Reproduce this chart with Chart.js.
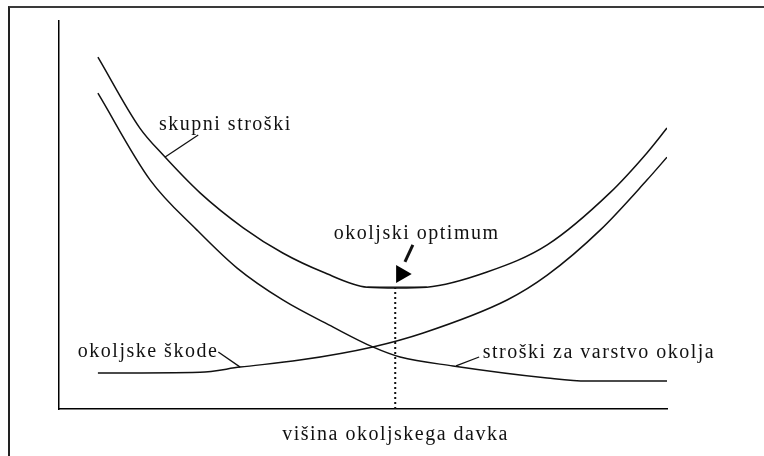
<!DOCTYPE html>
<html>
<head>
<meta charset="utf-8">
<script src="https://cdn.jsdelivr.net/npm/chart.js@4"></script>
<style>
  body { margin: 0; background: #fff; }
  #wrap { position: relative; width: 764px; height: 456px; }
  #frame { position: absolute; left: 8px; top: 6px; right: 0; bottom: 0;
           border-top: 2px solid #3a3a3a; border-left: 2px solid #222; }
  canvas { position: absolute; left: 0; top: 0; }
</style>
</head>
<body>
<div id="wrap">
  <div id="frame"></div>
  <canvas id="myCostChart" width="764" height="456"></canvas>
</div>
<script>
// series names
const seriesNames = ["skupni stroški", "stroški za varstvo okolja", "okoljske škode"];

// skupni stroški (total costs)
const totalX = [0.64, 1.33, 1.71, 2.32, 3.03, 3.68, 4.34, 5.07, 5.56, 6.05, 7.04, 8.03, 9.06, 9.67, 10.0];
const totalY = [9.07, 7.24, 6.55, 5.57, 4.67, 4.02, 3.53, 3.14, 3.12, 3.14, 3.53, 4.23, 5.57, 6.60, 7.24];

// stroški za varstvo okolja (protection costs)
const protectX = [0.64, 1.50, 2.27, 2.93, 3.68, 4.51, 5.16, 5.61, 6.48, 8.03, 8.68, 10.0];
const protectY = [8.14, 5.90, 4.61, 3.63, 2.81, 2.11, 1.60, 1.34, 1.11, 0.80, 0.72, 0.72];

// okoljske škode (environmental damage)
const damageX = [0.64, 2.32, 2.98, 3.96, 5.16, 5.99, 7.37, 8.03, 8.90, 9.67, 10.0];
const damageY = [0.93, 0.95, 1.08, 1.26, 1.60, 1.96, 2.81, 3.45, 4.61, 5.90, 6.49];

// optimum
const optimumX = 5.53;
const optimumY = 3.12;
const optimumText = "okoljski optimum";
const axisTitle = "višina okoljskega davka";

function pts(xs, ys) {
  return xs.map((x, i) => ({ x: x, y: ys[i] }));
}

const ink = "#111";

const lineStyle = {
  showLine: true,
  borderColor: ink,
  borderWidth: 1.5,
  pointRadius: 0,
  cubicInterpolationMode: "monotone",
};

const segStyle = {
  showLine: true,
  borderColor: ink,
  borderWidth: 1.3,
  pointRadius: 0,
};

// text labels, anchored in chart units (left, baseline)
const textLabels = [
  { text: seriesNames[0], x: 1.645, y: 7.19 },
  { text: optimumText, x: 4.52, y: 4.38 },
  { text: seriesNames[2], x: 0.31, y: 1.34 },
  { text: seriesNames[1], x: 6.97, y: 1.31 },
  { text: axisTitle, x: 3.67, y: -0.80 },
];

const textPlugin = {
  id: "textLabels",
  afterDatasetsDraw(chart) {
    const ctx = chart.ctx;
    const xs = chart.scales.x;
    const ys = chart.scales.y;
    ctx.save();
    ctx.font = "20px 'Liberation Serif', 'Times New Roman', serif";
    ctx.fillStyle = ink;
    ctx.textAlign = "left";
    ctx.textBaseline = "alphabetic";
    ctx.letterSpacing = "1.5px";
    textLabels.forEach((l) => {
      ctx.fillText(l.text, xs.getPixelForValue(l.x), ys.getPixelForValue(l.y));
    });
    ctx.restore();
  },
};

const costChart = document.getElementById("myCostChart").getContext("2d");

new Chart(costChart, {
  type: "scatter",
  data: {
    datasets: [
      { label: seriesNames[0], data: pts(totalX, totalY), ...lineStyle },
      { label: seriesNames[1], data: pts(protectX, protectY), ...lineStyle },
      { label: seriesNames[2], data: pts(damageX, damageY), ...lineStyle },
      // leader lines
      { label: "l1", data: [{ x: 2.29, y: 7.06 }, { x: 1.74, y: 6.49 }], ...segStyle },
      { label: "l2", data: [{ x: 2.62, y: 1.47 }, { x: 2.98, y: 1.08 }], ...segStyle },
      { label: "l3", data: [{ x: 6.91, y: 1.34 }, { x: 6.53, y: 1.11 }], ...segStyle },
      // tangent at the optimum
      { label: "tangent", data: [{ x: 5.07, y: optimumY + 0.02 }, { x: 6.05, y: optimumY + 0.02 }], ...segStyle },
      // dotted drop line
      {
        label: "drop",
        data: [{ x: optimumX, y: 0 }, { x: optimumX, y: optimumY }],
        ...segStyle,
        borderWidth: 2,
        borderDash: [2, 3],
      },
      // arrow shaft and head
      { label: "shaft", data: [{ x: 5.82, y: 4.23 }, { x: 5.69, y: 3.79 }], ...segStyle, borderWidth: 3 },
      {
        label: "head",
        data: [{ x: 5.63, y: 3.48 }],
        showLine: false,
        pointStyle: "triangle",
        rotation: 90,
        pointRadius: 10.4,
        backgroundColor: "#000",
        borderColor: "#000",
        borderWidth: 0,
      },
    ],
  },
  options: {
    responsive: false,
    animation: false,
    events: [],
    layout: {
      padding: { left: 59, top: 21, right: 97, bottom: 47 },
    },
    scales: {
      x: {
        type: "linear",
        min: 0,
        max: 10,
        grid: { display: false, drawTicks: false },
        ticks: { display: false },
        border: { display: true, color: "#000", width: 1.5 },
      },
      y: {
        type: "linear",
        min: 0,
        max: 10,
        grid: { display: false, drawTicks: false },
        ticks: { display: false },
        border: { display: true, color: "#000", width: 1.5 },
      },
    },
    plugins: {
      legend: { display: false },
      tooltip: { enabled: false },
      title: { display: false },
    },
  },
  plugins: [textPlugin],
});
</script>
</body>
</html>
